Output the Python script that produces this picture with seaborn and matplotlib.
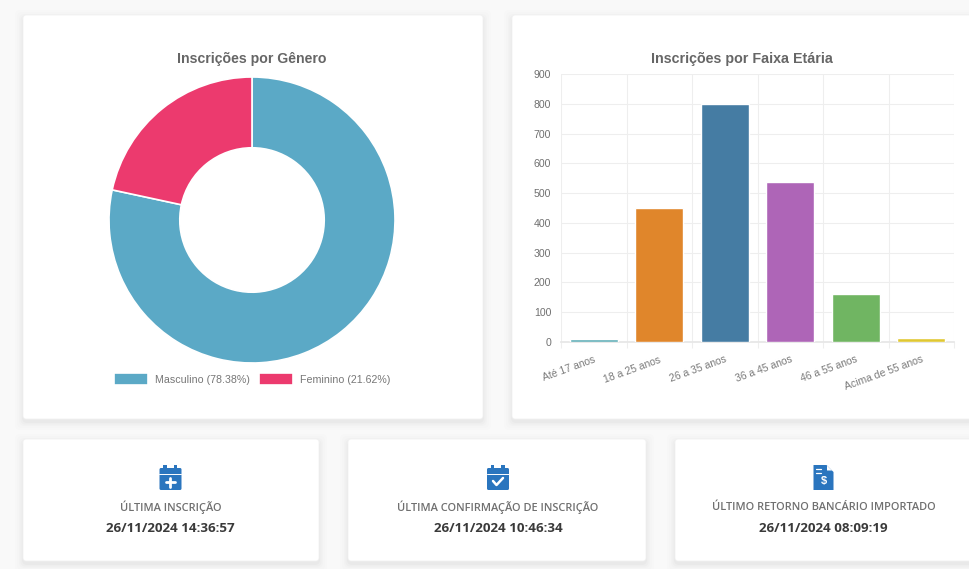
import pandas as pd
import matplotlib
matplotlib.use("Agg")
import matplotlib.pyplot as plt
import seaborn as sns
from matplotlib.patches import FancyBboxPatch, Rectangle, Polygon

W, H = 969, 569

# data
gender_labels = ["Masculino (78.38%)", "Feminino (21.62%)"]
gender_values = [78.38, 21.62]
gender_colors = ["#5BA9C6", "#EC3A6E"]

age_labels = ["Até 17 anos", "18 a 25 anos", "26 a 35 anos", "36 a 45 anos", "46 a 55 anos", "Acima de 55 anos"]
age_values = [10, 450, 800, 537, 160, 15]
age_colors = ["#62AFB8", "#E0862B", "#457CA3", "#AE65B7", "#70B562", "#E0C832"]
y_ticks = [0, 100, 200, 300, 400, 500, 600, 700, 800, 900]

card_titles = ["ÚLTIMA INSCRIÇÃO", "ÚLTIMA CONFIRMAÇÃO DE INSCRIÇÃO", "ÚLTIMO RETORNO BANCÁRIO IMPORTADO"]
card_dates = ["26/11/2024 14:36:57", "26/11/2024 10:46:34", "26/11/2024 08:09:19"]

sns.set_theme(style="white")
plt.rcParams["font.family"] = ["Liberation Sans", "DejaVu Sans"]

fig = plt.figure(figsize=(W / 100, H / 100), dpi=100, facecolor="#F9F9F9")


def box(x0, y0, x1, y1):
    # pixel box (y from the top) to figure fractions
    return [x0 / W, 1 - y1 / H, (x1 - x0) / W, (y1 - y0) / H]


# page layer in pixel coordinates
bg = fig.add_axes([0, 0, 1, 1], zorder=0)
bg.set_xlim(0, W)
bg.set_ylim(H, 0)
bg.axis("off")


def card(x0, y0, x1, y1):
    for grow, alpha in [(8, 0.006), (6, 0.008), (4, 0.012), (2.5, 0.016), (1, 0.02)]:
        bg.add_patch(FancyBboxPatch((x0 - grow, y0 - grow + 3), x1 - x0 + 2 * grow, y1 - y0 + 2 * grow,
                                    boxstyle="round,pad=0,rounding_size=5", fc="black", ec="none", alpha=alpha))
    bg.add_patch(FancyBboxPatch((x0, y0), x1 - x0, y1 - y0, boxstyle="round,pad=0,rounding_size=3",
                                fc="white", ec="#F1F1F1", lw=0.6))


card(23, 15, 483, 419)
card(512, 15, 985, 419)
card(23, 439, 319, 561)
card(348, 439, 646, 561)
card(675, 439, 985, 561)

# donut
ax1 = fig.add_axes(box(109, 77, 395, 363), zorder=1)
wedges, _ = ax1.pie(gender_values, colors=gender_colors, startangle=90, counterclock=False, radius=1,
                    wedgeprops={"width": 0.495, "edgecolor": "white", "linewidth": 1.2})
ax1.set_xlim(-1, 1)
ax1.set_ylim(-1, 1)
fig.legend(wedges, gender_labels, ncol=2, loc="center", bbox_to_anchor=(252.5 / W, 1 - 379 / H), frameon=False,
           fontsize=7.7, labelcolor="#777777", handlelength=3.18, handleheight=1.25, handletextpad=0.65,
           columnspacing=0.85, borderpad=0)
bg.text(252, 59, "Inscrições por Gênero", ha="center", va="center", fontsize=10.2, fontweight="bold", color="#666666")

# bars
df = pd.DataFrame({"faixa": age_labels, "total": age_values})
ax2 = fig.add_axes(box(561, 74, 954, 342), zorder=1)
sns.barplot(data=df, x="faixa", y="total", hue="faixa", palette=age_colors, saturation=1, width=0.73,
            legend=False, ax=ax2)
ax2.set_axisbelow(True)
for bar in ax2.patches:
    bar.set_zorder(4)
ax2.set_ylim(0, 900)
ax2.set_xlim(-0.5, 5.5)
ax2.set_yticks(y_ticks)
ax2.set_xticks([i - 0.5 for i in range(7)], minor=True)
ax2.grid(True, which="minor", axis="x", color="#EEEEEE", lw=0.8)
ax2.grid(True, which="major", axis="y", color="#EEEEEE", lw=0.8)
ax2.set_xlabel("")
ax2.set_ylabel("")
ax2.tick_params(axis="y", labelsize=7.6, labelcolor="#707070", length=0, pad=7)
ax2.tick_params(axis="x", which="major", length=0, pad=9)
ax2.tick_params(axis="x", which="minor", length=4, color="#EEEEEE", width=0.8, bottom=True)
ax2.set_xticks(range(6), age_labels, rotation=20, ha="right", rotation_mode="anchor", fontsize=7.5, color="#7A7A7A")
sns.despine(ax=ax2, left=True, top=True, right=True, bottom=False)
ax2.spines["bottom"].set_color("#E6E6E6")
ax2.patch.set_alpha(0)
bg.text(742, 59, "Inscrições por Faixa Etária", ha="center", va="center", fontsize=10.3, fontweight="bold", color="#666666")

# info cards
centers = [170.5, 498, 823.5]
blue = "#2A75BE"


def calendar(cx, mark):
    bg.add_patch(FancyBboxPatch((cx - 11, 468), 22, 22, boxstyle="round,pad=0,rounding_size=1.5", fc=blue, ec="none", zorder=3))
    bg.add_patch(Rectangle((cx - 7, 465), 3.5, 5, fc=blue, ec="none", zorder=3))
    bg.add_patch(Rectangle((cx + 3.5, 465), 3.5, 5, fc=blue, ec="none", zorder=3))
    bg.plot([cx - 11, cx + 11], [473.5, 473.5], color="white", lw=0.7, zorder=4)
    if mark == "plus":
        bg.plot([cx - 4.5, cx + 4.5], [482, 482], color="white", lw=2, zorder=4)
        bg.plot([cx, cx], [477.5, 486.5], color="white", lw=2, zorder=4)
    else:
        bg.plot([cx - 5, cx - 1.5, cx + 5], [481, 485, 478], color="white", lw=1.8, zorder=4)


calendar(centers[0], "plus")
calendar(centers[1], "check")
cx = centers[2]
bg.add_patch(Polygon([(cx - 10, 465), (cx + 3, 465), (cx + 10, 472), (cx + 10, 490), (cx - 10, 490)], fc=blue, ec="none", zorder=3))
bg.add_patch(Polygon([(cx + 3.5, 465.5), (cx + 8.5, 470.5), (cx + 3.5, 470.5)], fc="white", ec="none", zorder=4))
bg.plot([cx - 7, cx - 2], [469, 469], color="white", lw=0.9, zorder=4)
bg.plot([cx - 7, cx - 2], [472.5, 472.5], color="white", lw=0.9, zorder=4)
bg.text(cx, 481, "$", ha="center", va="center", fontsize=8, color="white", fontweight="bold", zorder=4,
        parse_math=False)

for c, t, d in zip(centers, card_titles, card_dates):
    bg.text(c, 507.5, t, ha="center", va="center", fontsize=7.9, color="#707070", family="Open Sans", fontweight="semibold")
    bg.text(c, 528, d, ha="center", va="center", fontsize=9.6, color="#3A3A3A", family="Open Sans", fontweight="bold")

fig.savefig("out.png", dpi=100)
